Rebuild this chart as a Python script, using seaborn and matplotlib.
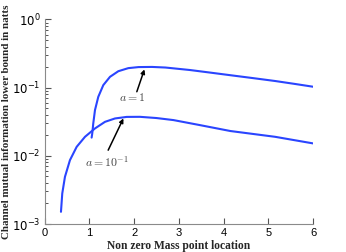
import numpy as np
import pandas as pd
import matplotlib
matplotlib.use("Agg")
import matplotlib.pyplot as plt
from matplotlib.ticker import FixedLocator, NullFormatter
import seaborn as sns

# Data
x_a1 = [1.05, 1.065, 1.087, 1.125, 1.199, 1.311, 1.461, 1.647, 1.87, 2.1, 2.4, 2.7,
        3.25, 3.7, 4.15, 4.65, 5.15, 5.6, 6.0]
y_a1 = [0.0185, 0.0215, 0.0299, 0.0468, 0.0733, 0.1088, 0.144, 0.174, 0.193, 0.200,
        0.201, 0.197, 0.181, 0.166, 0.152, 0.138, 0.125, 0.113, 0.103]
x_a01 = [0.365, 0.394, 0.454, 0.566, 0.716, 0.902, 1.125, 1.349, 1.573, 1.834, 2.13,
         2.5, 2.88, 3.47, 4.15, 5.15, 6.0]
y_a01 = [0.00151, 0.00281, 0.00492, 0.00865, 0.01355, 0.019, 0.0252, 0.0315, 0.0353,
         0.0372, 0.0373, 0.0358, 0.0334, 0.0282, 0.0231, 0.019, 0.0152]
series_names = ["a=1", "a=0.1"]
x_ticks = [0, 1, 2, 3, 4, 5, 6]
y_ticks = [1e-3, 1e-2, 1e-1, 1e0]
x_label = "Non zero Mass point location"
y_label = "Channel mutual information lower bound in natts"
label_a1 = r"$a = 1$"
label_a01 = r"$a = 10^{-1}$"

df = pd.DataFrame({
    "x": x_a1 + x_a01,
    "y": y_a1 + y_a01,
    "series": [series_names[0]] * len(x_a1) + [series_names[1]] * len(x_a01),
})

sns.set_theme(style="white")
plt.rcParams["mathtext.fontset"] = "dejavusans"
plt.rcParams.update({
    "xtick.bottom": True, "ytick.left": True,
    "xtick.direction": "in", "ytick.direction": "in",
    "xtick.major.size": 4, "ytick.major.size": 4, "ytick.minor.size": 2.5,
    "xtick.major.width": 0.8, "ytick.major.width": 0.8, "ytick.minor.width": 0.7,
    "xtick.color": "#555555", "ytick.color": "#555555",
    "xtick.labelcolor": "black", "ytick.labelcolor": "black",
})

fig = plt.figure(figsize=(3.46, 2.52), dpi=100)
ax = fig.add_axes([0.129, 0.111, 0.776, 0.812])

line_color = "#2a45ff"
sns.lineplot(data=df, x="x", y="y", hue="series", palette=[line_color, line_color],
             legend=False, ax=ax, linewidth=1.5, sort=False, estimator=None)

ax.set_yscale("log")
ax.set_xlim(0, 6)
ax.set_ylim(1e-3, 1e0)
ax.set_xticks(x_ticks)
ax.set_xticklabels([str(t) for t in x_ticks], fontsize=8, family="Liberation Sans")
ax.set_yticks(y_ticks)
ax.set_yticklabels([r"$10^{%d}$" % int(np.log10(t)) for t in y_ticks], fontsize=8.5)
minor_y = np.outer(y_ticks[:-1], np.arange(2, 10)).ravel()
ax.yaxis.set_minor_locator(FixedLocator(minor_y))
ax.yaxis.set_minor_formatter(NullFormatter())
ax.tick_params(axis="both", which="major", pad=3)

for s in ["top", "right"]:
    ax.spines[s].set_visible(False)
for s in ["left", "bottom"]:
    ax.spines[s].set_color("#8a8a8a")
    ax.spines[s].set_linewidth(0.8)

ax.set_xlabel(x_label, fontsize=8.3, fontweight="bold", family="Liberation Serif", labelpad=1)
ax.set_ylabel(y_label, fontsize=7.9, fontweight="bold", family="Liberation Serif", labelpad=1)

arrow_kw = dict(arrowstyle="-|>", color="black", lw=1.1, mutation_scale=6,
                shrinkA=0, shrinkB=0)
ax.annotate("", xy=(2.23, 0.185), xytext=(2.06, 0.087), arrowprops=arrow_kw)
ax.annotate("", xy=(1.76, 0.0353), xytext=(1.42, 0.0121), arrowprops=arrow_kw)
ax.text(1.95, 0.071, label_a1, fontsize=8.5, ha="center", va="center",
        color="#444444", math_fontfamily="cm")
ax.text(1.40, 0.0082, label_a01, fontsize=8.5, ha="center", va="center",
        color="#444444", math_fontfamily="cm")

fig.savefig("out.png", dpi=100)
